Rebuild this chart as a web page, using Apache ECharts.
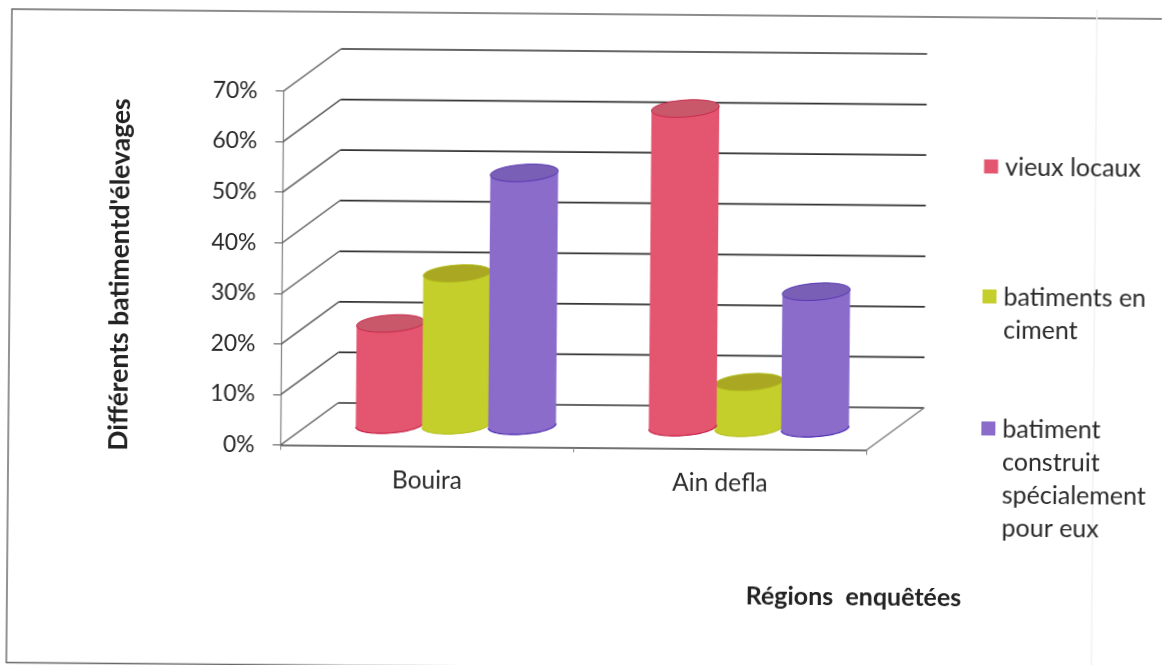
<!DOCTYPE html>
<html>
<head>
<meta charset="utf-8">
<style>
  html, body { margin: 0; padding: 0; background: #fff; overflow: hidden; }
  /* The printed sheet sits slightly askew */
  #chart { width: 1162px; height: 665px; transform-origin: 0 0; transform: rotate(0.49deg); }
</style>
<script src="https://cdn.jsdelivr.net/npm/echarts@6/dist/echarts.min.js"></script>
</head>
<body>
<div id="chart"></div>
<script>
const regions = ['Bouira', 'Ain defla'];
const yTicks = [0, 10, 20, 30, 40, 50, 60, 70];
const seriesNames = ['vieux locaux', 'batiments en\nciment', 'batiment\nconstruit\nspécialement\npour eux'];
const vieuxLocaux = [20, 63];
const batimentsCiment = [30, 9];
const batimentSpecial = [50, 27];
const seriesValues = [vieuxLocaux, batimentsCiment, batimentSpecial];

const sideColors = ['#e4556f', '#c4cf2c', '#8b6ccb'];
const topColors = ['#c9586a', '#aaa823', '#7a5fb6'];
const edgeColors = ['#c41f45', '#b5c01c', '#4a2bb0'];
const font = 'Lato, Carlito, "Open Sans", sans-serif';

// Oblique depth of the floor and side wall, in pixels
const depthX = 57;
const depthY = -42.5;
const tilt = -4.5 * Math.PI / 180;

function ellipsePoint(cx, cy, rx, ry, t) {
  const c = Math.cos(t), s = Math.sin(t);
  return [
    cx + rx * c * Math.cos(tilt) - ry * s * Math.sin(tilt),
    cy + rx * c * Math.sin(tilt) + ry * s * Math.cos(tilt)
  ];
}
function arc(cx, cy, rx, ry, from, to) {
  const pts = [];
  for (let i = 0; i <= 40; i++) pts.push(ellipsePoint(cx, cy, rx, ry, from + (to - from) * i / 40));
  return pts;
}

// Three sides of the box: side wall, back wall, and the floor's right edge
function renderWall(params, api) {
  const v = api.value(0);
  const a = api.coord([0, v]);
  const size = api.size([1, 0])[0];
  const left = a[0] - size / 2;
  const right = left + size * regions.length;
  const y = a[1];
  const children = [
    { type: 'line', shape: { x1: left, y1: y, x2: left + depthX, y2: y + depthY },
      style: { stroke: '#5a5a5a', lineWidth: 1.4 } },
    { type: 'line', shape: { x1: left + depthX, y1: y + depthY, x2: right + depthX, y2: y + depthY },
      style: { stroke: '#333333', lineWidth: 1.7 } }
  ];
  if (v === 0) {
    children.push({ type: 'line', shape: { x1: right, y1: y, x2: right + depthX, y2: y + depthY },
      style: { stroke: '#777', lineWidth: 1.3 } });
  }
  return { type: 'group', children };
}

// One cylinder standing halfway into the floor's depth
function renderCylinder(seriesIndex) {
  return function (params, api) {
    const band = api.size([1, 0])[0];
    const value = api.value(1);
    const base = api.coord([api.value(0), 0]);
    const top = api.coord([api.value(0), value]);
    const cx = base[0] + depthX / 2 + (seriesIndex - 1) * band * 0.226;
    const by = base[1] + depthY / 2;
    const ty = top[1] + depthY / 2;
    const rx = band * 0.116;
    const ry = 8.5;
    const body = arc(cx, by, rx, ry, 0, Math.PI).concat(arc(cx, ty, rx, ry, Math.PI, 2 * Math.PI));
    const z2 = Math.round(value);
    return {
      type: 'group',
      children: [
        { type: 'polygon', z2, shape: { points: body }, style: { fill: sideColors[seriesIndex] } },
        { type: 'polyline', z2, shape: { points: arc(cx, by, rx, ry, 0, Math.PI) },
          style: { fill: 'none', stroke: edgeColors[seriesIndex], lineWidth: 1.2 } },
        { type: 'polygon', z2, shape: { points: arc(cx, ty, rx, ry, 0, 2 * Math.PI) },
          style: { fill: topColors[seriesIndex], stroke: edgeColors[seriesIndex], lineWidth: 0.8 } }
      ]
    };
  };
}

const legendTops = [137, 267, 399];
const legendLefts = [980.5, 980, 980];
const legendBlockHeights = [33, 66, 132];
const legends = seriesNames.map((name, i) => ({
  data: [name],
  orient: 'vertical',
  left: legendLefts[i],
  top: legendTops[i],
  selectedMode: false,
  itemWidth: 14,
  itemHeight: legendBlockHeights[i],
  // The swatch sits beside the first line of the name
  icon: 'path://M0 9H14V23H0Z M0 0Z M0 ' + legendBlockHeights[i] + 'Z',
  textStyle: { fontFamily: font, fontSize: 25, color: '#2a2a2a', lineHeight: 33, padding: [0, 0, 0, 2] }
}));

const series = [{
  type: 'custom',
  name: 'axes',
  coordinateSystem: 'cartesian2d',
  data: yTicks.map(v => [v]),
  encode: { y: 0 },
  renderItem: renderWall,
  silent: true,
  z: 1
}];
seriesNames.forEach((name, i) => {
  series.push({
    type: 'custom',
    name,
    coordinateSystem: 'cartesian2d',
    data: seriesValues[i].map((v, c) => [c, v]),
    encode: { x: 0, y: 1 },
    renderItem: renderCylinder(i),
    itemStyle: { color: sideColors[i] },
    z: 2
  });
});

const chart = echarts.init(document.getElementById('chart'), null, { renderer: 'canvas' });
chart.setOption({
  animation: false,
  backgroundColor: '#ffffff',
  textStyle: { fontFamily: font },
  grid: { left: 284.5, top: 88.5, width: 586, height: 354, containLabel: false },
  legend: legends,
  xAxis: {
    type: 'category',
    data: regions,
    name: 'Régions  enquêtées',
    nameLocation: 'middle',
    nameGap: 135,
    nameTextStyle: { fontFamily: font, fontSize: 25, fontWeight: 'bold', color: '#222', padding: [0, 0, 0, 562] },
    axisLine: { show: true, lineStyle: { color: '#444', width: 1.6 } },
    axisTick: { show: true, length: 5, lineStyle: { color: '#888' } },
    axisLabel: { fontFamily: font, fontSize: 24.5, color: '#2a2a2a', margin: 22 }
  },
  yAxis: {
    type: 'value',
    min: 0,
    max: 70,
    interval: 10,
    name: "Différents batimentd'élevages",
    nameLocation: 'middle',
    nameGap: 149,
    nameRotate: 90,
    nameTextStyle: { fontFamily: font, fontSize: 26.5, fontWeight: 'bold', color: '#222', padding: [0, 16, 0, 0] },
    axisLine: { show: true, lineStyle: { color: '#888', width: 1.3 } },
    axisTick: { show: true, length: 8, lineStyle: { color: '#555' } },
    axisLabel: { fontFamily: font, fontSize: 23, color: '#2a2a2a', margin: 26, formatter: '{value}%' },
    splitLine: { show: false }
  },
  series,
  graphic: [
    { type: 'rect', silent: true, z: -1,
      shape: { x: 12, y: 9, width: 1300, height: 653.5 },
      style: { fill: 'none', stroke: '#666', lineWidth: 1.4 } },
    { type: 'line', silent: true, z: -1,
      shape: { x1: 1097, y1: 0, x2: 1097, y2: 665 },
      style: { stroke: '#f4f1f3', lineWidth: 1.5 } }
  ]
});
</script>
</body>
</html>
